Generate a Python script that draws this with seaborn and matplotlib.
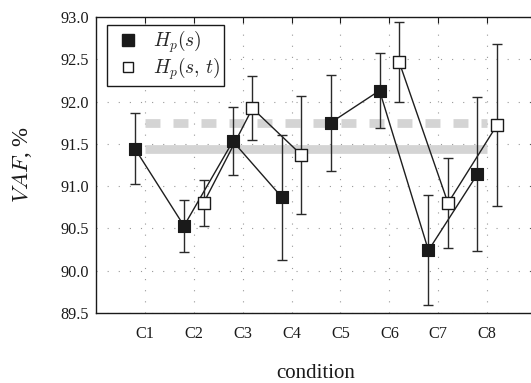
import numpy as np
import pandas as pd
import seaborn as sns
import matplotlib.pyplot as plt
from matplotlib.lines import Line2D

# values
conditions = ["C1", "C2", "C3", "C4", "C5", "C6", "C7", "C8"]
block = [1, 1, 1, 1, 2, 2, 2, 2]
hp_s = [91.44, 90.53, 91.53, 90.87, 91.75, 92.13, 90.24, 91.14]
hp_s_err = [0.42, 0.31, 0.40, 0.74, 0.57, 0.44, 0.65, 0.91]
hp_st = [np.nan, 90.80, 91.92, 91.37, np.nan, 92.47, 90.80, 91.72]
hp_st_err = [np.nan, 0.27, 0.38, 0.70, np.nan, 0.47, 0.53, 0.96]
ref_s = 91.44
ref_st = 91.75

sns.set_theme(style="white")
plt.rcParams["font.family"] = ["Liberation Serif", "DejaVu Serif"]
plt.rcParams["mathtext.fontset"] = "cm"

idx = np.arange(1, len(conditions) + 1)
df_s = pd.DataFrame({"pos": idx - 0.2, "vaf": hp_s, "err": hp_s_err, "block": block})
df_st = pd.DataFrame({"pos": idx + 0.2, "vaf": hp_st, "err": hp_st_err, "block": block})

fig = plt.figure(figsize=(5.31, 3.83), dpi=100)
ax = fig.add_axes([96 / 531, 70 / 383, 440 / 531, 296 / 383])

# reference levels
ax.hlines(ref_s, 1, 8, color="0.83", lw=6.3, capstyle="butt", zorder=1)
ax.hlines(ref_st, 1, 8, color="0.83", lw=6.3, linestyles=(0, (1.71, 1.49)), zorder=1)

line_kw = dict(color="#1e1e1e", lw=1.0, estimator=None, legend=False, ax=ax, zorder=3)
sns.lineplot(data=df_s, x="pos", y="vaf", units="block", **line_kw)
sns.lineplot(data=df_st.dropna(), x="pos", y="vaf", units="block", **line_kw)

for d in (df_s, df_st):
    ax.errorbar(d["pos"], d["vaf"], yerr=d["err"], fmt="none", ecolor="#2a2a2a",
                elinewidth=1.0, capsize=3.6, capthick=1.0, zorder=4)

sns.scatterplot(data=df_s, x="pos", y="vaf", marker="s", s=78, color="#1a1a1a",
                edgecolor="#1a1a1a", linewidth=0.8, ax=ax, zorder=5)
sns.scatterplot(data=df_st.dropna(), x="pos", y="vaf", marker="s", s=70, color="white",
                edgecolor="#1a1a1a", linewidth=1.0, ax=ax, zorder=5)

ax.set_xlim(0, 9)
ax.set_ylim(89.5, 93.0)
ax.set_xticks(idx)
ax.set_xticklabels(conditions)
ax.set_yticks(np.arange(89.5, 93.01, 0.5))
ax.set_yticklabels([f"{v:.1f}" for v in np.arange(89.5, 93.01, 0.5)])
ax.tick_params(direction="in", top=True, right=True, length=4, width=0.8,
               labelsize=11.7, colors="#1a1a1a")
ax.tick_params(axis="x", pad=9)
ax.tick_params(axis="y", pad=5)
ax.grid(True, color="0.6", linestyle=(0, (1, 9)), linewidth=0.8)
for sp in ax.spines.values():
    sp.set_color("#1a1a1a")
    sp.set_linewidth(1.0)

ax.set_xlabel("condition", fontsize=15, labelpad=16, color="#1a1a1a")
ax.set_ylabel("$VAF$, %", fontsize=16.5, labelpad=19, color="#1a1a1a")

handles = [
    Line2D([], [], marker="s", ls="none", markersize=8.2, markerfacecolor="#1a1a1a",
           markeredgecolor="#1a1a1a"),
    Line2D([], [], marker="s", ls="none", markersize=7.8, markerfacecolor="white",
           markeredgecolor="#1a1a1a"),
]
leg = ax.legend(handles, [r"$H_p(s)$", r"$H_p(s,\,t)$"], loc="upper left",
                bbox_to_anchor=(11 / 440, 1 - 8 / 296), borderaxespad=0,
                fontsize=14, frameon=True, fancybox=False, framealpha=1,
                edgecolor="#1a1a1a", handlelength=1.8, handletextpad=0.35,
                borderpad=0.2, labelspacing=0.0)
leg.get_frame().set_linewidth(1.0)

fig.savefig("out.png", dpi=100)
